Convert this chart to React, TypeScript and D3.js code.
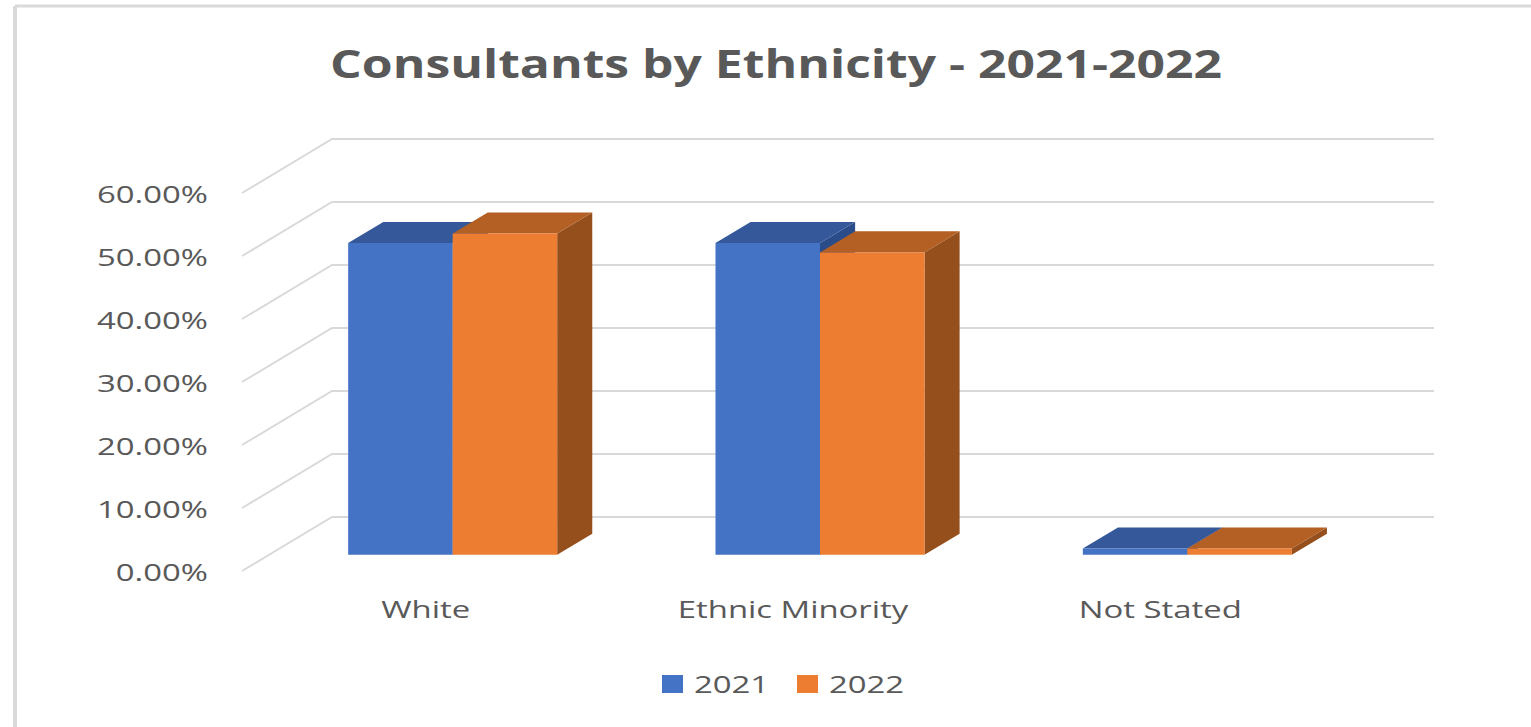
import React from "react";
import * as d3 from "d3";

const categories = ["White", "Ethnic Minority", "Not Stated"];
const seriesNames = ["2021", "2022"];
const values2021 = [0.495, 0.495, 0.01];
const values2022 = [0.51, 0.48, 0.01];
const yTicks = [0, 0.1, 0.2, 0.3, 0.4, 0.5, 0.6];
const title = "Consultants by Ethnicity - 2021-2022";

const W = 1531;
const H = 727;
const FONT = "'Open Sans', 'Noto Sans', sans-serif";
const TXT = "#595959";
const SX = 1.37;

const colors = [
  { front: "#4472C4", top: "#34589A", side: "#2A4C88" },
  { front: "#ED7D31", top: "#B45F23", side: "#954F1D" },
];

export default function App() {
  const x0 = 242;
  const plotW = 1102;
  const depthDX = 90;
  const depthDY = -54;
  const y = d3.scaleLinear().domain([0, 0.6]).range([571, 193]);
  const xBand = d3.scaleBand<string>().domain(categories).range([x0, x0 + plotW]);
  const bw = xBand.bandwidth();
  const gw = bw * 0.569;
  const xSeries = d3
    .scaleBand<string>()
    .domain(seriesNames)
    .range([(bw - gw) / 2, (bw + gw) / 2]);
  const d0 = 0.3;
  const d1 = 0.69;
  const P = (x: number, v: number, d: number): [number, number] => [
    x + depthDX * d,
    y(v) + depthDY * d,
  ];
  const poly = (pts: [number, number][]) => pts.map((p) => p.join(",")).join(" ");
  const allValues = [values2021, values2022];

  const stretch = (x: number, yy: number, anchor: string, text: string, size: number) => (
    <text
      transform={`translate(${x},${yy}) scale(${SX},1)`}
      textAnchor={anchor}
      fontSize={size}
      fontFamily={FONT}
      fill={TXT}
    >
      {text}
    </text>
  );

  return (
    <svg width={W} height={H} style={{ position: "absolute", left: 0, top: 0 }}>
      <rect x={0} y={0} width={W} height={H} fill="#fff" />
      <line x1={15} y1={6} x2={W} y2={6} stroke="#d9d9d9" strokeWidth={3} />
      <line x1={15} y1={6} x2={15} y2={H} stroke="#d9d9d9" strokeWidth={4} />

      <text
        x={776}
        y={78}
        textAnchor="middle"
        fontSize={40}
        fontWeight="bold"
        fontFamily={FONT}
        fill={TXT}
        textLength={892}
        lengthAdjust="spacingAndGlyphs"
      >
        {title}
      </text>

      {yTicks.map((t) => {
        const a = P(x0, t, 0);
        const b = P(x0, t, 1);
        const c = P(x0 + plotW, t, 1);
        return (
          <g key={t}>
            <polyline
              points={poly([a, b, c])}
              fill="none"
              stroke="#d9d9d9"
              strokeWidth={2}
            />
            {stretch(208, a[1] + 10, "end", d3.format(".2%")(t), 24)}
          </g>
        );
      })}

      {categories.map((cat, ci) => (
        <g key={cat}>
          {seriesNames.map((s, si) => {
            const v = allValues[si][ci];
            const xa = (xBand(cat) as number) + (xSeries(s) as number);
            const xb = xa + xSeries.bandwidth();
            const col = colors[si];
            return (
              <g key={s}>
                <polygon
                  points={poly([P(xb, 0, d0), P(xb, v, d0), P(xb, v, d1), P(xb, 0, d1)])}
                  fill={col.side}
                />
                <polygon
                  points={poly([P(xa, v, d0), P(xb, v, d0), P(xb, v, d1), P(xa, v, d1)])}
                  fill={col.top}
                />
                <polygon
                  points={poly([P(xa, 0, d0), P(xb, 0, d0), P(xb, v, d0), P(xa, v, d0)])}
                  fill={col.front}
                />
              </g>
            );
          })}
          {stretch((xBand(cat) as number) + bw / 2, 618, "middle", cat, 24)}
        </g>
      ))}

      {seriesNames.map((s, si) => {
        const lx = 662 + si * 135;
        return (
          <g key={s}>
            <rect x={lx} y={675} width={21} height={18} fill={colors[si].front} />
            {stretch(lx + 32, 693, "start", s, 24)}
          </g>
        );
      })}
    </svg>
  );
}
